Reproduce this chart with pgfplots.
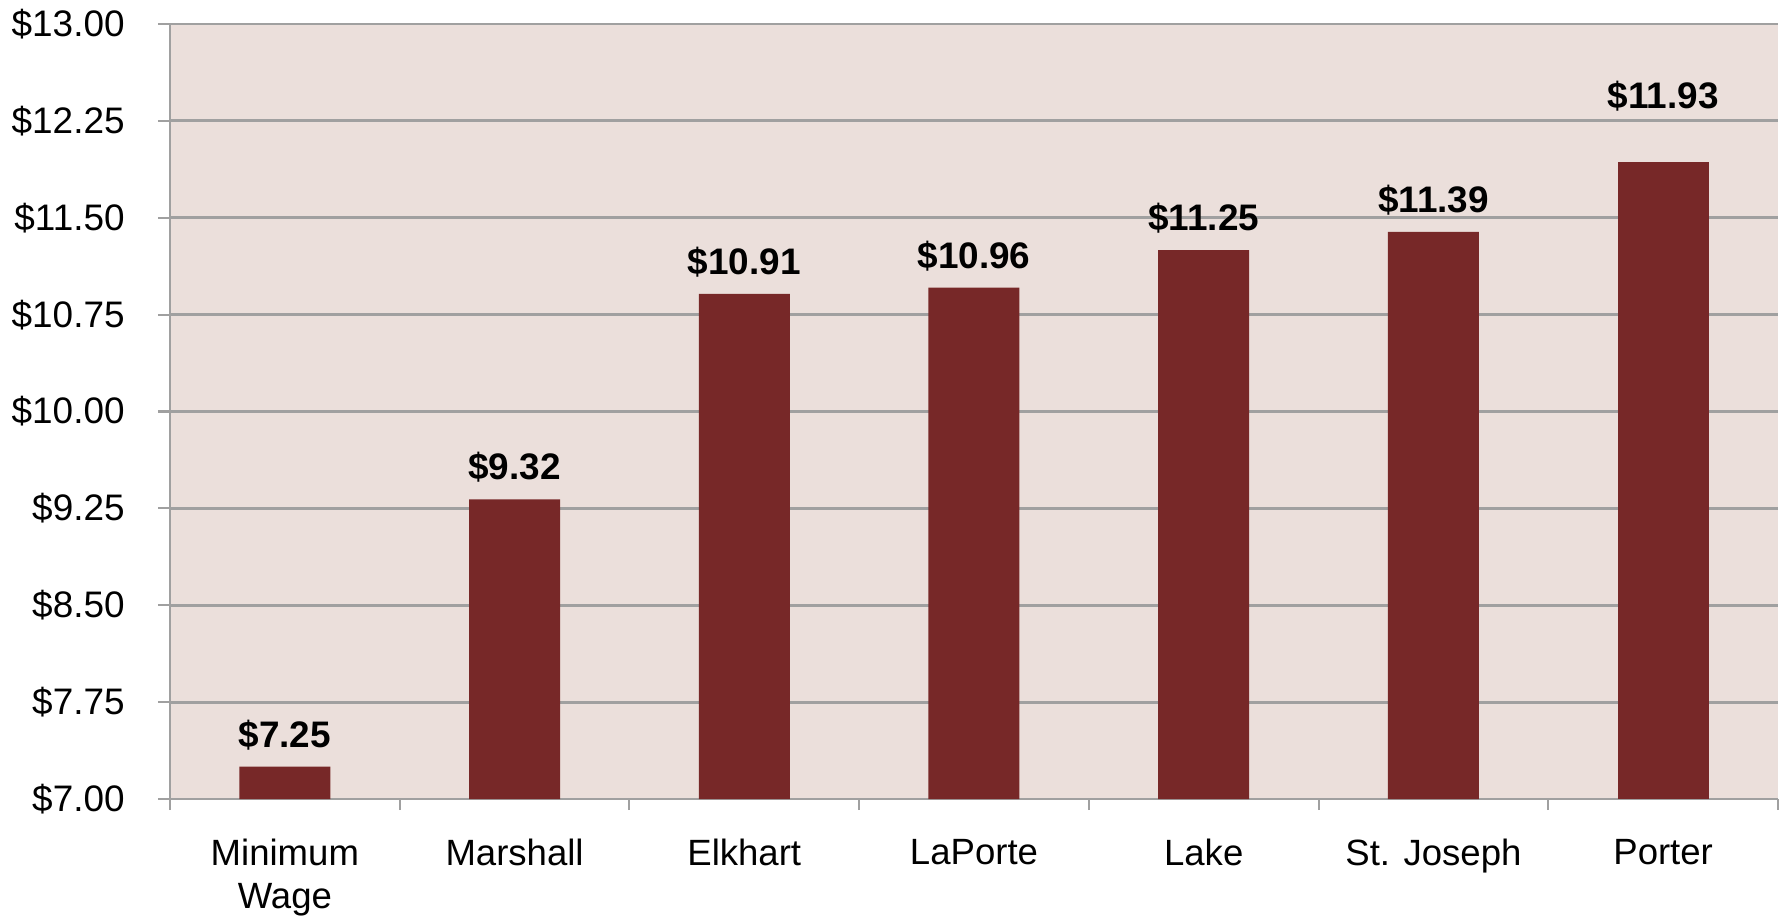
\documentclass[border=0pt]{standalone}
\usepackage{pgfplots}
\pgfplotsset{compat=1.18}
\usepackage{fontspec}
\setmainfont{Liberation Sans}
\definecolor{bgc}{HTML}{EBDFDB}
\definecolor{barc}{HTML}{772828}
\definecolor{gridc}{HTML}{A0A0A0}
\begin{document}
\begin{tikzpicture}
\begin{axis}[
  scale only axis,
  width=16.08cm, height=7.75cm,
  xmin=-0.5, xmax=6.5,
  ymin=7, ymax=13,
  ytick={7,7.75,8.5,9.25,10,10.75,11.5,12.25,13},
  /pgf/number format/assume math mode=true,
  yticklabel={\$\pgfmathprintnumber[fixed,fixed zerofill,precision=2]{\tick}},
  yticklabel style={font=\fontsize{10.5pt}{12pt}\selectfont, anchor=east, xshift=-2.1mm},
  xtick={0,1,2,3,4,5,6},
  xticklabels={{Minimum\\Wage},Marshall,Elkhart,LaPorte,Lake,{St. Joseph},Porter},
  xticklabel style={font=\fontsize{10.4pt}{12.2pt}\selectfont, align=center, yshift=-1.6mm},
  major x tick style={draw=none},
  minor xtick={-0.5,0.5,1.5,2.5,3.5,4.5,5.5,6.5},
  tick align=outside,
  major tick length=0.12cm,
  minor tick length=0.11cm,
  tick style={gridc, line width=0.6pt},
  axis lines*=left,
  axis line style={gridc, line width=0.8pt},
  ymajorgrids,
  grid style={gridc, line width=0.8pt},
  axis background/.style={fill=bgc},
  ybar, bar width=0.91cm,
  nodes near coords={\$\pgfmathprintnumber[fixed,fixed zerofill,precision=2]{\pgfplotspointmeta}},
  nodes near coords style={font=\bfseries\fontsize{10.5pt}{12pt}\selectfont, anchor=base, yshift=1.95mm, text=black},
  clip=false,
]
\addplot[fill=barc, draw=none, bar shift=0pt] coordinates {(0,7.25) (1,9.32) (2,10.91) (3,10.96) (4,11.25) (5,11.39)};
\addplot[fill=barc, draw=none, bar shift=0pt, nodes near coords style={yshift=3.45mm}] coordinates {(6,11.93)};
\end{axis}
\pgfresetboundingbox
\path (-1.70cm,-1.18cm) rectangle (16.13cm,7.99cm);
\end{tikzpicture}
\end{document}
